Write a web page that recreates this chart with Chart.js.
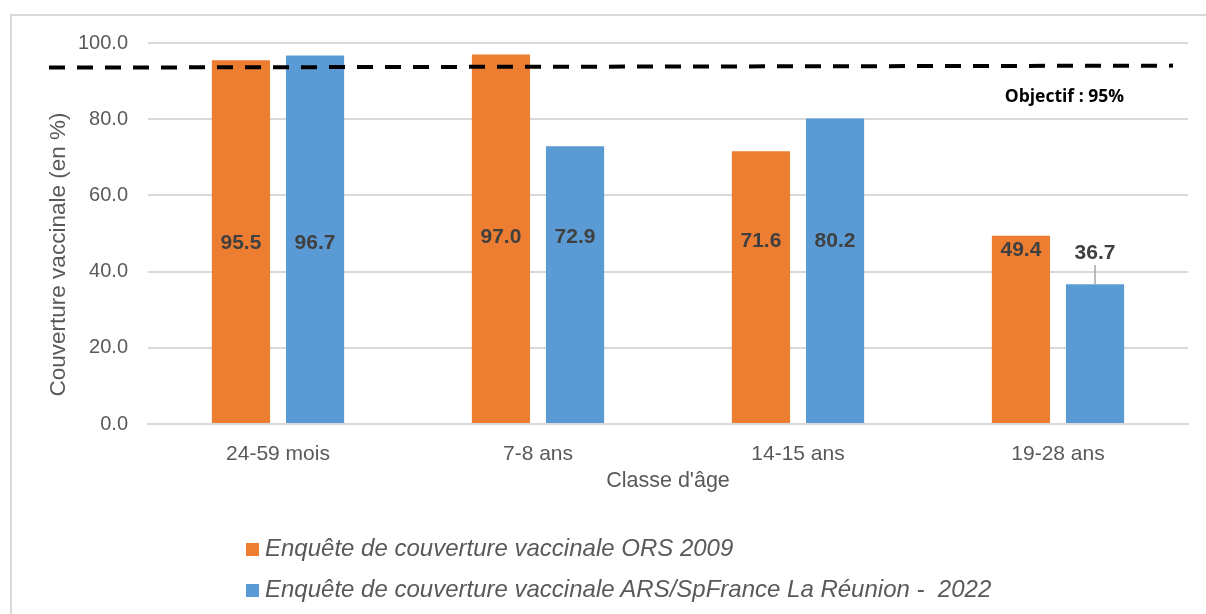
<!DOCTYPE html>
<html>
<head>
<meta charset="utf-8">
<script src="https://cdn.jsdelivr.net/npm/chart.js@4.4.1/dist/chart.umd.min.js"></script>
<style>
    body { margin: 0; background: #fff; }
    #frame { position: absolute; left: 10px; top: 14px; width: 1220px; height: 640px; border: 2px solid #d9d9d9; box-sizing: border-box; }
    #wrap { position: absolute; left: 0; top: 0; width: 1206px; height: 614px; }
    #legend { position: absolute; left: 246px; top: 527px; font: italic 24px "Liberation Sans", Arial, sans-serif; color: #595959; white-space: pre; }
    .item { height: 41px; display: flex; align-items: center; }
    .box { width: 13px; height: 13px; margin-right: 6px; margin-top: 4px; }
</style>
</head>
<body>
<div id="frame"></div>
<div id="wrap"><canvas id="vaccChart" width="1206" height="614"></canvas></div>
<div id="legend"></div>

<script>
const categories = ["24-59 mois", "7-8 ans", "14-15 ans", "19-28 ans"];
const ors2009 = [95.5, 97.0, 71.6, 49.4];
const ars2022 = [96.7, 72.9, 80.2, 36.7];
const seriesNames = [
    "Enquête de couverture vaccinale ORS 2009",
    "Enquête de couverture vaccinale ARS/SpFrance La Réunion -  2022"
];
const objectifLevel = 93.8;   // the dashed line sits a bit under 95 in the source
const objectifText = "Objectif : 95%";
const yTitle = "Couverture vaccinale (en %)";

// where each value label sits (in axis units), hand placed like in the source
const labelAt = [
    [47.5, 49.0, 48.0, 45.7],
    [47.5, 49.0, 48.0, 44.9]
];

const FONT = "'Liberation Sans', Arial, sans-serif";

// dashed objective line + its caption
const objectifPlugin = {
    id: "objectif",
    afterDatasetsDraw(chart) {
        const ctx = chart.ctx;
        const area = chart.chartArea;
        const y = chart.scales.y.getPixelForValue(objectifLevel);
        ctx.save();
        ctx.strokeStyle = "#000";
        ctx.lineWidth = 4;
        ctx.setLineDash([16, 12]);
        ctx.beginPath();
        ctx.moveTo(area.left - 99, y + 1);
        ctx.lineTo(area.right - 15, y - 1);
        ctx.stroke();
        ctx.setLineDash([]);
        ctx.fillStyle = "#000";
        ctx.font = "bold 17.5px 'Open Sans', sans-serif";
        ctx.textAlign = "right";
        ctx.textBaseline = "middle";
        ctx.fillText(objectifText, area.right - 64, y + 30);
        ctx.restore();
    }
};

// y axis title, drawn by hand because it sits a little below the middle
const yTitlePlugin = {
    id: "yTitle",
    afterDraw(chart) {
        const ctx = chart.ctx;
        const sc = chart.scales.y;
        ctx.save();
        ctx.translate(sc.left + 39, (sc.top + sc.bottom) / 2 + 21);
        ctx.rotate(-Math.PI / 2);
        ctx.font = "22.5px " + FONT;
        ctx.fillStyle = "#595959";
        ctx.textAlign = "center";
        ctx.textBaseline = "middle";
        ctx.fillText(yTitle, 0, 0);
        ctx.restore();
    }
};

// value labels inside / above the bars
const valueLabels = {
    id: "valueLabels",
    afterDatasetsDraw(chart) {
        const ctx = chart.ctx;
        ctx.save();
        ctx.font = "bold 21px " + FONT;
        ctx.fillStyle = "#404040";
        ctx.textAlign = "center";
        ctx.textBaseline = "middle";
        chart.data.datasets.forEach((ds, i) => {
            chart.getDatasetMeta(i).data.forEach((bar, j) => {
                const y = chart.scales.y.getPixelForValue(labelAt[i][j]);
                ctx.fillText(ds.data[j].toFixed(1), bar.x, y);
                // leader line when the label is above the bar
                if (y + 12 < bar.y) {
                    ctx.strokeStyle = "#a6a6a6";
                    ctx.lineWidth = 1.5;
                    ctx.beginPath();
                    ctx.moveTo(bar.x, y + 12);
                    ctx.lineTo(bar.x, bar.y);
                    ctx.stroke();
                }
            });
        });
        ctx.restore();
    }
};

const ctx = document.getElementById("vaccChart").getContext("2d");

const chart = new Chart(ctx, {
    type: "bar",
    data: {
        labels: categories,
        datasets: [
            { label: seriesNames[0], data: ors2009, backgroundColor: "#ed7d31" },
            { label: seriesNames[1], data: ars2022, backgroundColor: "#5b9bd5" }
        ]
    },
    options: {
        responsive: false,
        animation: false,
        categoryPercentage: 0.57,
        barPercentage: 0.785,
        layout: { padding: { left: 20, right: 18, top: 43, bottom: 115 } },
        plugins: {
            legend: { display: false },
            tooltip: { enabled: false }
        },
        scales: {
            x: {
                afterFit(scale) { scale.height = 75; },
                grid: { display: false },
                border: { color: "#d9d9d9", width: 2 },
                ticks: { color: "#595959", font: { family: FONT, size: 21 }, padding: 10 },
                title: {
                    display: true,
                    text: "Classe d'âge",
                    color: "#595959",
                    font: { family: FONT, size: 21.5 },
                    padding: { top: 0, bottom: 5 }
                }
            },
            y: {
                min: 0,
                max: 100,
                afterFit(scale) { scale.width = 128; },
                grid: { color: "#d9d9d9", lineWidth: 2, drawTicks: false },
                border: { display: false },
                ticks: {
                    stepSize: 20,
                    color: "#595959",
                    font: { family: FONT, size: 20 },
                    padding: 20,
                    callback: v => v.toFixed(1)
                }
            }
        }
    },
    plugins: [objectifPlugin, valueLabels, yTitlePlugin]
});

// legend as plain html, one series per line
const legend = document.getElementById("legend");
chart.data.datasets.forEach(ds => {
    legend.innerHTML += `<div class="item"><span class="box" style="background:${ds.backgroundColor}"></span>${ds.label}</div>`;
});
</script>
</body>
</html>
